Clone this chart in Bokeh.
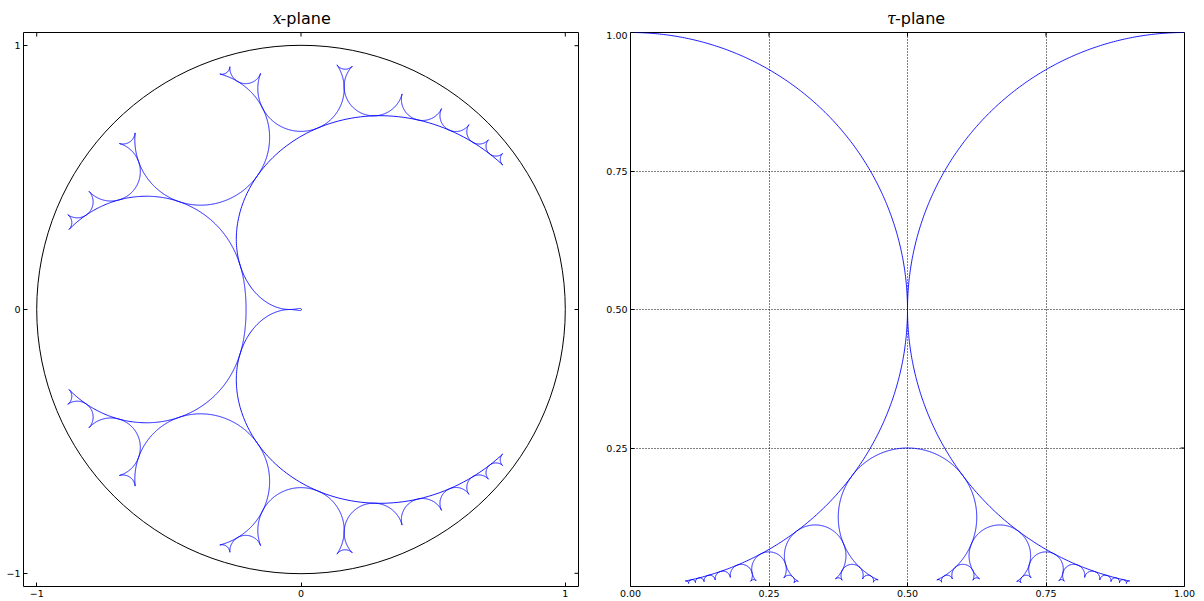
import numpy as np
from bokeh.plotting import figure
from bokeh.layouts import row, column
from bokeh.models import FixedTicker, Range1d, NumeralTickFormatter
from bokeh.core.properties import value
from bokeh.embed import file_html
from bokeh.resources import INLINE

# ---- data -----------------------------------------------------------------
# Ford circles p/q whose arcs make up the curve in the tau-plane
ford_num = [0, 1, 1, 1, 1, 1, 1, 2, 1, 2, 3, 1, 3, 2, 3, 4, 1,
            5, 4, 3, 5, 2, 7, 5, 3, 7, 4, 5, 6, 7, 8, 9, 1]
ford_den = [1, 10, 9, 8, 7, 6, 5, 9, 4, 7, 10, 3, 8, 5, 7, 9, 2,
            9, 7, 5, 8, 3, 10, 7, 4, 9, 5, 6, 7, 8, 9, 10, 1]
# boundary circle of the x-plane
unit_circle_x = [0.0]
unit_circle_y = [0.0]
unit_circle_r = [1.0]
# tick values / labels
x_plane_ticks = [-1, 0, 1]
x_plane_labels = {-1: "\u22121", 0: "0", 1: "1"}
tau_x_ticks = [0.0, 0.25, 0.5, 0.75, 1.0]
tau_y_ticks = [0.25, 0.5, 0.75, 1.0]
tau_grid = [0.25, 0.5, 0.75]
titles = [("x", "-plane"), ("\u03c4", "-plane")]

# ---- build the boundary path of the Ford-circle triangles ------------------
fset = set(zip(ford_num, ford_den))


def circ(f):
    p, q = f
    r = 1.0 / (2.0 * q * q)
    return p / q, r, r


def tangent(f, g):
    cx1, cy1, r1 = circ(f)
    cx2, cy2, r2 = circ(g)
    dx, dy = cx2 - cx1, cy2 - cy1
    d = np.hypot(dx, dy)
    return cx1 + r1 * dx / d, cy1 + r1 * dy / d


def arc(f, P1, P2, xs, ys):
    cx, cy, r = circ(f)
    a1 = np.arctan2(P1[1] - cy, P1[0] - cx)
    a2 = np.arctan2(P2[1] - cy, P2[0] - cx)
    sweep = (a1 - a2) % (2 * np.pi)
    n = max(6, int(np.ceil(sweep / (2 * np.pi) * 900)))
    t = np.linspace(a1, a1 - sweep, n)
    xs.extend(cx + r * np.cos(t))
    ys.extend(cy + r * np.sin(t))


def traverse(L, R, xs, ys):
    M = (L[0] + R[0], L[1] + R[1])
    if M not in fset:
        return
    arc(L, tangent(L, R), tangent(L, M), xs, ys)
    traverse(L, M, xs, ys)
    arc(M, tangent(L, M), tangent(M, R), xs, ys)
    traverse(M, R, xs, ys)
    arc(R, tangent(M, R), tangent(L, R), xs, ys)


first = (ford_num[0], ford_den[0])
last = (ford_num[-1], ford_den[-1])
tx, ty = [], []
c0 = circ(first)
arc(first, (c0[0], c0[1] + c0[2]), tangent(first, last), tx, ty)
traverse(first, last, tx, ty)
c1 = circ(last)
arc(last, tangent(first, last), (c1[0], c1[1] + c1[2]), tx, ty)
tx = np.array(tx)
ty = np.array(ty)
# x = exp(2 pi i tau)
qx = np.exp(-2 * np.pi * ty) * np.cos(2 * np.pi * tx)
qy = np.exp(-2 * np.pi * ty) * np.sin(2 * np.pi * tx)

# ---- styling helpers -------------------------------------------------------
TICK_FONT = "DejaVu Sans"
TICK_SIZE = "9.5px"
TICK_LEN = 4  # px


def style_axis(ax, ticks):
    ax.ticker = FixedTicker(ticks=ticks)
    ax.axis_line_color = None
    ax.major_tick_in = TICK_LEN
    ax.major_tick_out = 0
    ax.major_tick_line_color = "black"
    ax.minor_tick_line_color = None
    ax.major_label_text_font = TICK_FONT
    ax.major_label_text_font_size = TICK_SIZE
    ax.major_label_text_color = "black"
    ax.major_label_standoff = 3


def mirror_ticks(p, xticks, yticks, fw, fh):
    """inward ticks on the top and right frame edges"""
    x0, x1 = p.x_range.start, p.x_range.end
    y0, y1 = p.y_range.start, p.y_range.end
    dy = TICK_LEN * (y1 - y0) / fh
    dx = TICK_LEN * (x1 - x0) / fw
    p.segment(x0=xticks, y0=[y1] * len(xticks), x1=xticks,
              y1=[y1 - dy] * len(xticks), line_color="black", line_width=1)
    p.segment(x0=[x1] * len(yticks), y0=yticks, x1=[x1 - dx] * len(yticks),
              y1=yticks, line_color="black", line_width=1)


TH = 31  # title strip height


def title_fig(width, center, sym, rest):
    t = figure(width=width, height=TH, output_backend="svg",
               toolbar_location=None, x_range=Range1d(0, width),
               y_range=Range1d(0, TH), x_axis_type=None, y_axis_type=None,
               min_border=0)
    t.outline_line_color = None
    t.grid.visible = False
    t.text(x=[center - 32], y=[13], text=[sym],
           text_font=value("DejaVu Serif"), text_font_style="italic",
           text_font_size="16px", text_align="left",
           text_baseline="alphabetic", text_color="black")
    t.text(x=[center - 23.5], y=[13], text=[rest],
           text_font=value("DejaVu Sans"), text_font_size="16px",
           text_align="left", text_baseline="alphabetic", text_color="black")
    return t


FH = 554
# ---- left: x-plane -----------------------------------------------------------
FW1 = 555
L1 = 23
R1 = 20
p1 = figure(frame_width=FW1, frame_height=FH, output_backend="svg",
            toolbar_location=None, x_range=Range1d(-1.05, 1.05),
            y_range=Range1d(-1.05, 1.05), min_border_left=L1,
            min_border_right=R1, min_border_top=1, min_border_bottom=14)
p1.outline_line_color = "black"
p1.outline_line_width = 1
p1.grid.visible = False
style_axis(p1.xaxis[0], x_plane_ticks)
style_axis(p1.yaxis[0], x_plane_ticks)
p1.xaxis[0].major_label_overrides = x_plane_labels
p1.yaxis[0].major_label_overrides = x_plane_labels
mirror_ticks(p1, x_plane_ticks, x_plane_ticks, FW1, FH)
p1.circle(x=unit_circle_x, y=unit_circle_y, radius=unit_circle_r,
          fill_color=None, line_color="black", line_width=1)
p1.line(qx, qy, line_color="#0000ff", line_width=0.9)
t1 = title_fig(L1 + FW1 + R1, L1 + FW1 / 2.0, *titles[0])

# ---- right: tau-plane --------------------------------------------------------
FW2 = 554
L2 = 32
p2 = figure(frame_width=FW2, frame_height=FH, output_backend="svg",
            toolbar_location=None, x_range=Range1d(0, 1), y_range=Range1d(0, 1),
            min_border_left=L2, min_border_right=12, min_border_top=1,
            min_border_bottom=14)
p2.outline_line_color = "black"
p2.outline_line_width = 1
style_axis(p2.xaxis[0], tau_x_ticks)
style_axis(p2.yaxis[0], tau_y_ticks)
p2.xaxis[0].formatter = NumeralTickFormatter(format="0.00")
p2.yaxis[0].formatter = NumeralTickFormatter(format="0.00")
for g in (p2.xgrid[0], p2.ygrid[0]):
    g.ticker = FixedTicker(ticks=tau_grid)
    g.grid_line_color = "black"
    g.grid_line_dash = "1 2"
    g.grid_line_width = 1
    g.grid_line_alpha = 1.0
mirror_ticks(p2, tau_x_ticks, tau_y_ticks, FW2, FH)
p2.line(tx, ty, line_color="#0000ff", line_width=0.9)
t2 = title_fig(L2 + FW2 + 12, L2 + FW2 / 2.0, *titles[1])

layout = row(column(t1, p1), column(t2, p2))
open("out.html", "w").write(file_html(layout, INLINE))
